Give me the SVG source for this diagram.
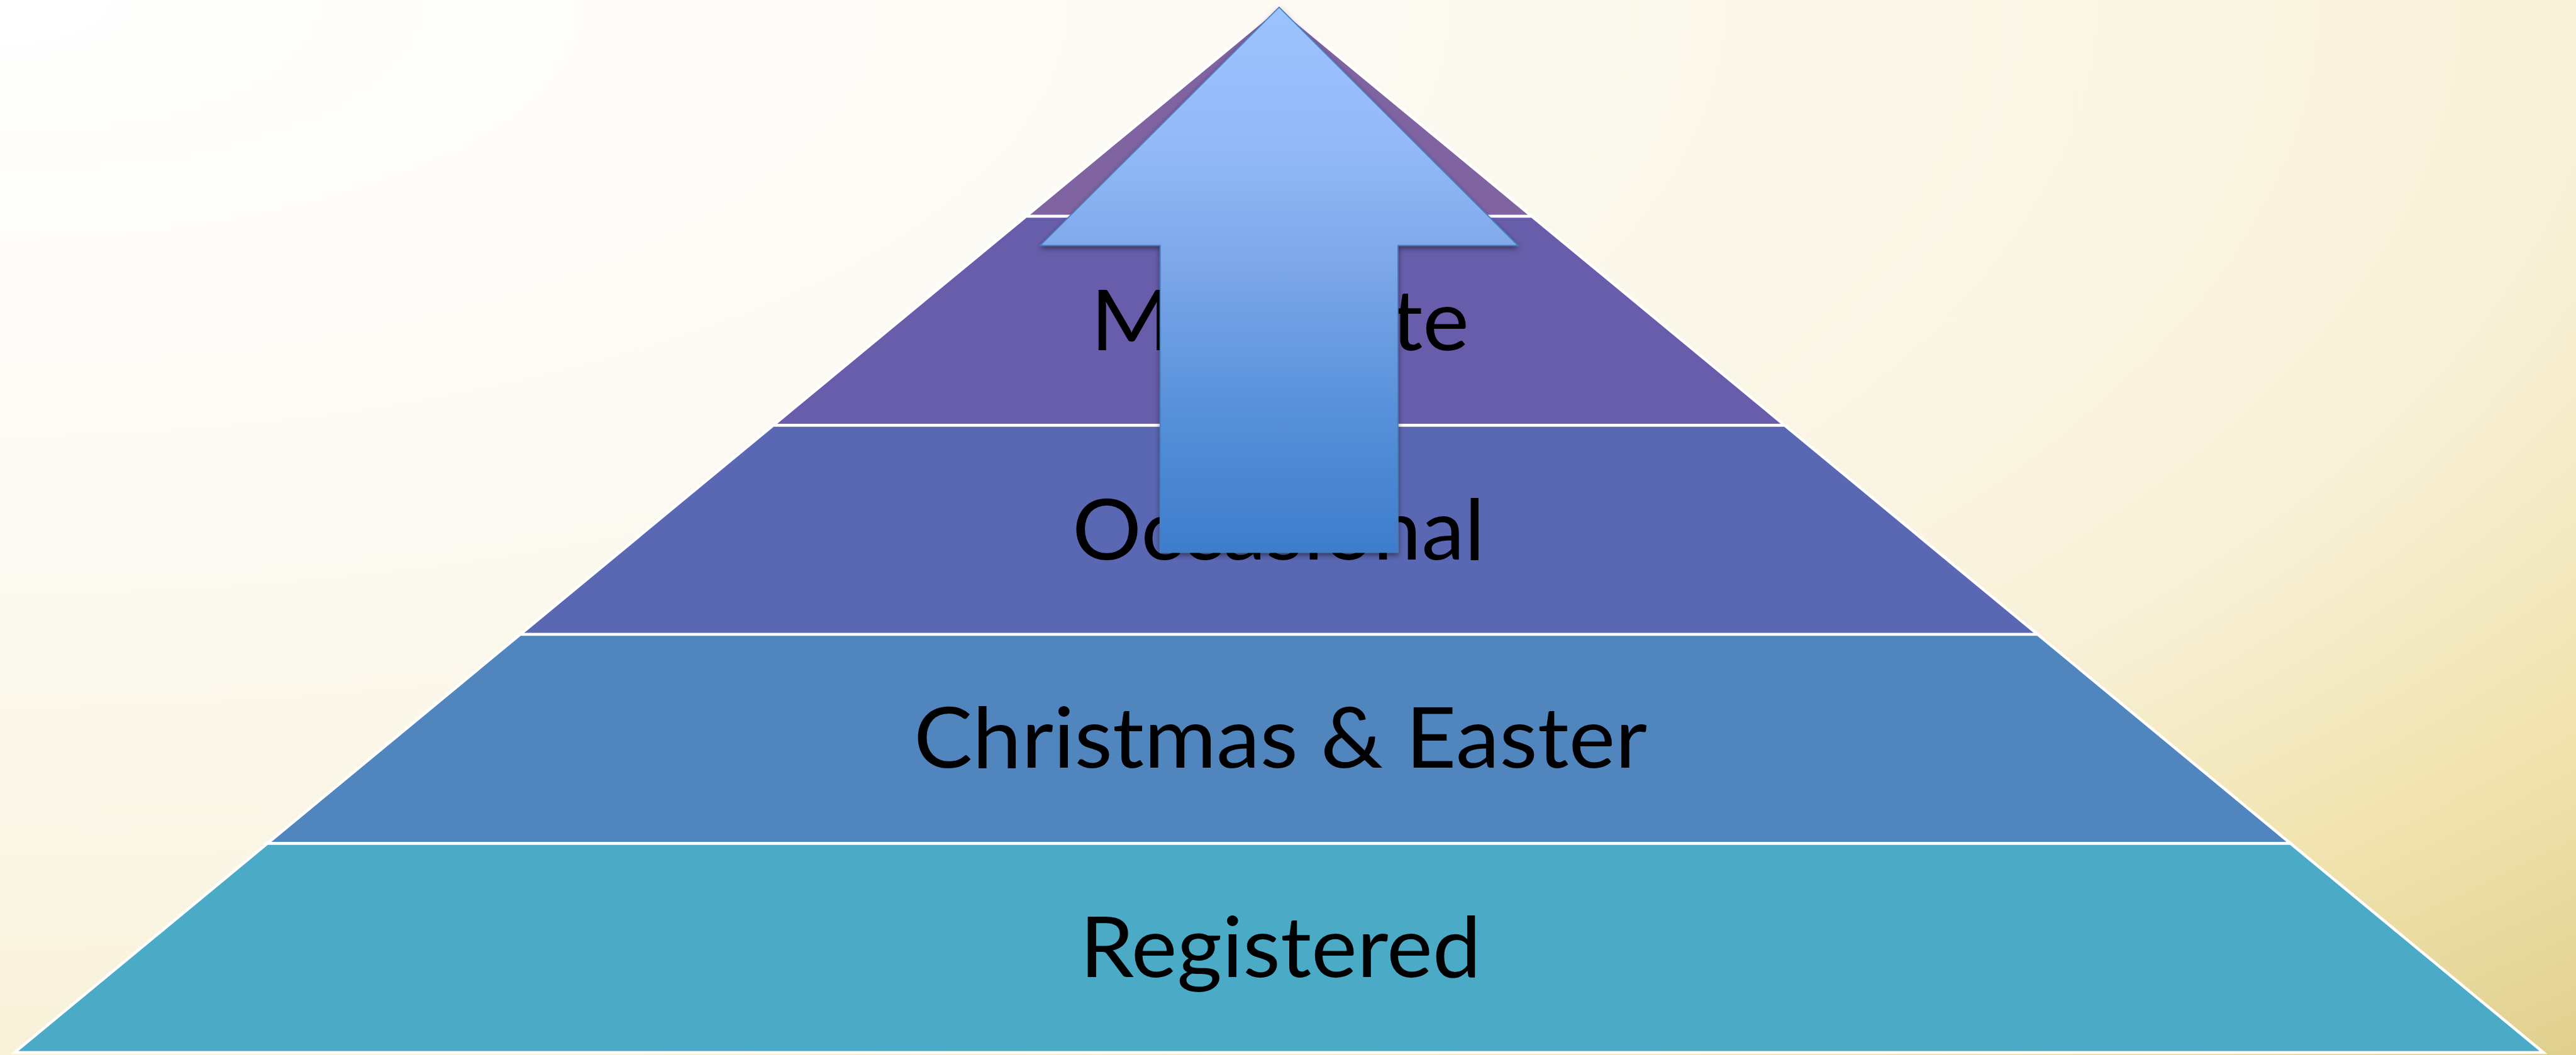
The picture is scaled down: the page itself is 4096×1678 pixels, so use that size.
<svg xmlns="http://www.w3.org/2000/svg" width="4096" height="1678" viewBox="0 0 4096 1678">
  <defs>
    <radialGradient id="bg" cx="0" cy="0" r="1.4142" fx="0" fy="0" gradientUnits="objectBoundingBox">
      <stop offset="0" stop-color="#FFFFFF"/>
      <stop offset="0.35" stop-color="#FCFAF3"/>
      <stop offset="0.6" stop-color="#FAF5E3"/>
      <stop offset="0.71" stop-color="#F8F1D8"/>
      <stop offset="0.85" stop-color="#F1E4B0"/>
      <stop offset="1" stop-color="#E0D08E"/>
    </radialGradient>
    <linearGradient id="arrowFill" x1="0" y1="11" x2="0" y2="878" gradientUnits="userSpaceOnUse">
      <stop offset="0" stop-color="#9DC3FF"/>
      <stop offset="0.25" stop-color="#93BAF7"/>
      <stop offset="0.45" stop-color="#80A9EB"/>
      <stop offset="0.75" stop-color="#5690D9"/>
      <stop offset="1" stop-color="#3D7DCC"/>
    </linearGradient>
    <filter id="shadow" x="-10%" y="-10%" width="120%" height="120%">
      <feDropShadow dx="0" dy="4" stdDeviation="4" flood-color="#000000" flood-opacity="0.45"/>
    </filter>
  </defs>
  <style>
    .layer { stroke: #FFFFFF; stroke-width: 4.5; stroke-linejoin: miter; }
    .lbl { font-family: Lato, "Open Sans", "Liberation Sans", sans-serif; font-size: 134px; fill: #000000; text-anchor: middle; }
  </style>

  <rect x="0" y="0" width="4096" height="1678" fill="url(#bg)"/>

  <g id="layer1">
    <polygon class="layer" fill="#8064A2" points="2033.6,11.4 2435.7,343.9 1631.5,343.9"/>
  </g>
  <g id="layer2">
    <polygon class="layer" fill="#675DAA" points="1631.5,343.9 2435.7,343.9 2837.8,676.4 1229.4,676.4"/>
    <text class="lbl" x="2035" y="557" textLength="602" lengthAdjust="spacingAndGlyphs">Moderate</text>
  </g>
  <g id="layer3">
    <polygon class="layer" fill="#5A67B2" points="1229.4,676.4 2837.8,676.4 3240,1009 827.2,1009"/>
    <text class="lbl" x="2033" y="890" textLength="656" lengthAdjust="spacingAndGlyphs">Occasional</text>
  </g>
  <g id="layer4">
    <polygon class="layer" fill="#5085BD" points="827.2,1009 3240,1009 3642.1,1341.5 425.1,1341.5"/>
    <text class="lbl" x="2036" y="1221" textLength="1166" lengthAdjust="spacingAndGlyphs">Christmas &amp; Easter</text>
  </g>
  <g id="layer5">
    <polygon class="layer" fill="#4BABC6" points="425.1,1341.5 3642.1,1341.5 4044.2,1674 23,1674"/>
    <text class="lbl" x="2036" y="1554" textLength="638" lengthAdjust="spacingAndGlyphs">Registered</text>
  </g>

  <g id="arrow" filter="url(#shadow)">
    <polygon fill="url(#arrowFill)" stroke="#4A7EBB" stroke-width="1.8" stroke-linejoin="miter"
      points="2033.8,11.4 2413.4,390.4 2222.8,390.4 2222.8,878.3 1844.8,878.3 1844.8,390.4 1654.2,390.4"/>
  </g>
</svg>
